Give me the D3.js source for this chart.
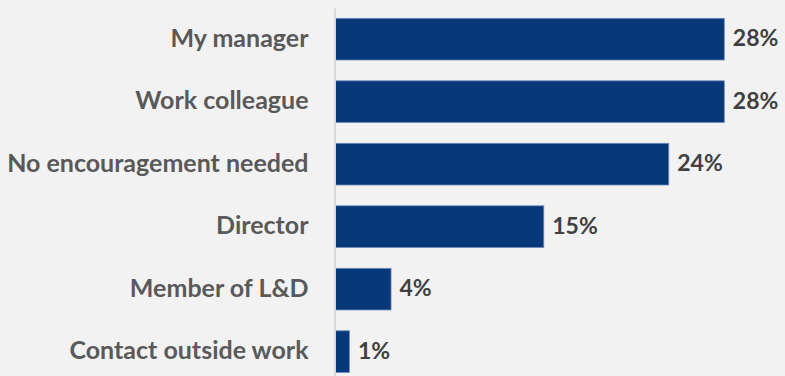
<!DOCTYPE html>
<html>
<head>
<meta charset="utf-8">
<script src="https://cdn.jsdelivr.net/npm/d3@7"></script>
<style>
  html, body { margin: 0; padding: 0; background: #f2f2f2; }
  svg { display: block; }
</style>
</head>
<body>
<svg id="chart" width="785" height="376"></svg>
<script>
// Who encouraged the respondent (share of responses, %)
const categories = [
  "My manager",
  "Work colleague",
  "No encouragement needed",
  "Director",
  "Member of L&D",
  "Contact outside work"
];
const values = [28, 28, 24, 15, 4, 1];
const valueLabels = ["28%", "28%", "24%", "15%", "4%", "1%"];

const width = 785, height = 376;
const svg = d3.select("#chart");

svg.append("rect")
  .attr("width", width).attr("height", height)
  .attr("fill", "#f2f2f2");

const x = d3.scaleLinear().domain([0, 28]).range([335.5, 724.3]);
const y = d3.scaleBand()
  .domain(categories)
  .range([7.9, 382.9])
  .paddingInner(0.333)
  .paddingOuter(0.1667);

const fontFamily = "Lato, 'Open Sans', sans-serif";

// bars
svg.append("g").selectAll("rect")
  .data(categories)
  .join("rect")
  .attr("x", x(0))
  .attr("y", d => y(d))
  .attr("width", (d, i) => x(values[i]) - x(0))
  .attr("height", y.bandwidth())
  .attr("fill", "#08377a")
  .attr("stroke", "#6f8dbd")
  .attr("stroke-width", 0.8);

// category axis
const yAxis = d3.axisLeft(y).tickSize(0).tickPadding(26);
const gAxis = svg.append("g")
  .attr("transform", `translate(${x(0) - 1},0)`)
  .call(yAxis);
gAxis.select(".domain")
  .attr("stroke", "#d9d9d9")
  .attr("stroke-width", 2);
gAxis.selectAll("text")
  .attr("fill", "#595959")
  .attr("font-family", fontFamily)
  .attr("font-weight", 700)
  .attr("font-size", "25px")
  .attr("dy", "0.3em");

// value labels
svg.append("g").selectAll("text")
  .data(categories)
  .join("text")
  .attr("x", (d, i) => x(values[i]) + 8.5)
  .attr("y", d => y(d) + y.bandwidth() / 2)
  .attr("dy", "0.3em")
  .attr("fill", "#404040")
  .attr("font-family", fontFamily)
  .attr("font-weight", 700)
  .attr("font-size", "23px")
  .text((d, i) => valueLabels[i]);
</script>
</body>
</html>
